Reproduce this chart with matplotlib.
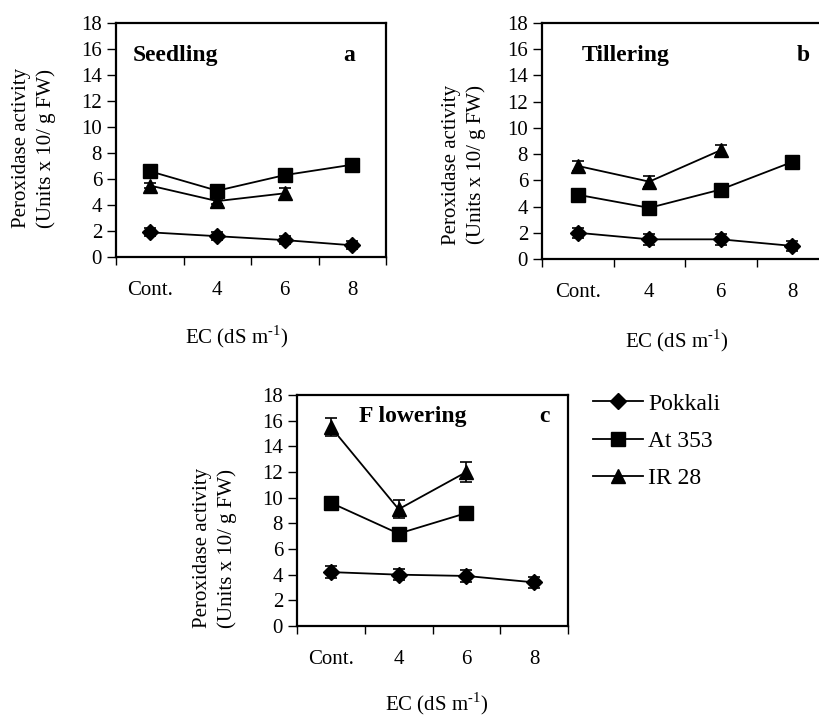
import numpy as np
import matplotlib
matplotlib.use("Agg")
import matplotlib.pyplot as plt
from matplotlib.lines import Line2D

plt.rcParams["font.family"] = ["Liberation Serif", "DejaVu Serif"]
plt.rcParams["mathtext.fontset"] = "custom"
plt.rcParams["mathtext.rm"] = "Liberation Serif"

W, H = 819, 716

categories = ["Cont.", "4", "6", "8"]
varieties = ["Pokkali", "At 353", "IR 28"]
nan = np.nan

# Seedling (a)
seed_pokkali = [1.9, 1.6, 1.3, 0.9]
seed_pokkali_err = [0.3, 0.3, 0.3, 0.3]
seed_at353 = [6.6, 5.1, 6.3, 7.1]
seed_at353_err = [0.2, 0.2, 0.2, 0.2]
seed_ir28 = [5.5, 4.3, 4.9, nan]
seed_ir28_err = [0.2, 0.2, 0.4, nan]

# Tillering (b)
till_pokkali = [2.0, 1.5, 1.5, 1.0]
till_pokkali_err = [0.4, 0.4, 0.4, 0.4]
till_at353 = [4.9, 3.9, 5.3, 7.4]
till_at353_err = [0.2, 0.2, 0.2, 0.2]
till_ir28 = [7.1, 5.9, 8.3, nan]
till_ir28_err = [0.4, 0.4, 0.4, nan]

# Flowering (c)
flow_pokkali = [4.2, 4.0, 3.9, 3.4]
flow_pokkali_err = [0.45, 0.45, 0.45, 0.45]
flow_at353 = [9.6, 7.2, 8.8, nan]
flow_at353_err = [0.3, 0.3, 0.3, nan]
flow_ir28 = [15.5, 9.1, 12.0, nan]
flow_ir28_err = [0.7, 0.7, 0.75, nan]

markers = ["D", "s", "^"]
msizes = [8, 10, 10]

fig = plt.figure(figsize=(W / 100, H / 100), dpi=100)


def px_axes(left, top, right, bottom):
    return fig.add_axes([left / W, 1 - bottom / H, (right - left) / W, (bottom - top) / H])


def draw_panel(ax, series, errs, title, letter, title_x, letter_x, text_y):
    x = np.arange(len(categories)) + 0.5
    for vals, err, m, ms in zip(series, errs, markers, msizes):
        ax.errorbar(x, vals, yerr=err, color="black", marker=m, markersize=ms,
                    linewidth=1.3, elinewidth=1.2, capsize=4, capthick=1.2)
    ax.set_xlim(0, 4)
    ax.set_ylim(0, 18)
    ax.set_yticks(np.arange(0, 19, 2))
    ax.set_xticks(np.arange(0, 5))
    ax.set_xticklabels([])
    ax.set_xticks(x, minor=True)
    ax.set_xticklabels(categories, minor=True)
    ax.tick_params(axis="x", which="major", direction="out", length=6, width=1)
    ax.tick_params(axis="x", which="minor", length=0, pad=17, labelsize=15)
    ax.tick_params(axis="y", direction="out", length=6.5, width=1, labelsize=15, pad=3.5)
    for s in ax.spines.values():
        s.set_linewidth(1.6)
    ax.text(title_x, text_y, title, transform=ax.transAxes, fontsize=17,
            fontweight="bold", ha="left", va="center")
    ax.text(letter_x, text_y, letter, transform=ax.transAxes, fontsize=17,
            fontweight="bold", ha="center", va="center")


def fig_text(xp, yp, s, **kw):
    fig.text(xp / W, 1 - yp / H, s, ha="center", va="center", **kw)


ylab = "Peroxidase activity\n(Units x 10/ g FW)"
xlab = r"EC (dS m$^{\text{-1}}$)"

ax_a = px_axes(116, 23, 386, 257)
draw_panel(ax_a, [seed_pokkali, seed_at353, seed_ir28],
           [seed_pokkali_err, seed_at353_err, seed_ir28_err],
           "Seedling", "a", 0.063, 0.863, 0.863)
fig_text(34, 148, ylab, rotation=90, fontsize=15, linespacing=1.35)
fig_text(237, 337, xlab, fontsize=15)

ax_b = px_axes(542, 23, 828, 259)
draw_panel(ax_b, [till_pokkali, till_at353, till_ir28],
           [till_pokkali_err, till_at353_err, till_ir28_err],
           "Tillering", "b", 0.14, 0.913, 0.864)
fig_text(464, 165, ylab, rotation=90, fontsize=15, linespacing=1.35)
fig_text(677, 341, xlab, fontsize=15)

ax_c = px_axes(297, 395, 568, 626)
draw_panel(ax_c, [flow_pokkali, flow_at353, flow_ir28],
           [flow_pokkali_err, flow_at353_err, flow_ir28_err],
           "F lowering", "c", 0.23, 0.913, 0.909)
fig_text(215, 548, ylab, rotation=90, fontsize=15, linespacing=1.35)
fig_text(437, 704, xlab, fontsize=15)

handles = [Line2D([], [], color="black", marker=m, markersize=ms, linewidth=1.3)
           for m, ms in zip(markers, msizes)]
fig.legend(handles, varieties, loc="upper left", frameon=False, fontsize=17,
           bbox_to_anchor=(593 / W, 1 - 393 / H), borderpad=0, borderaxespad=0,
           handlelength=2.1, handletextpad=0.25, labelspacing=0.67)

fig.savefig("out.png", dpi=100)
